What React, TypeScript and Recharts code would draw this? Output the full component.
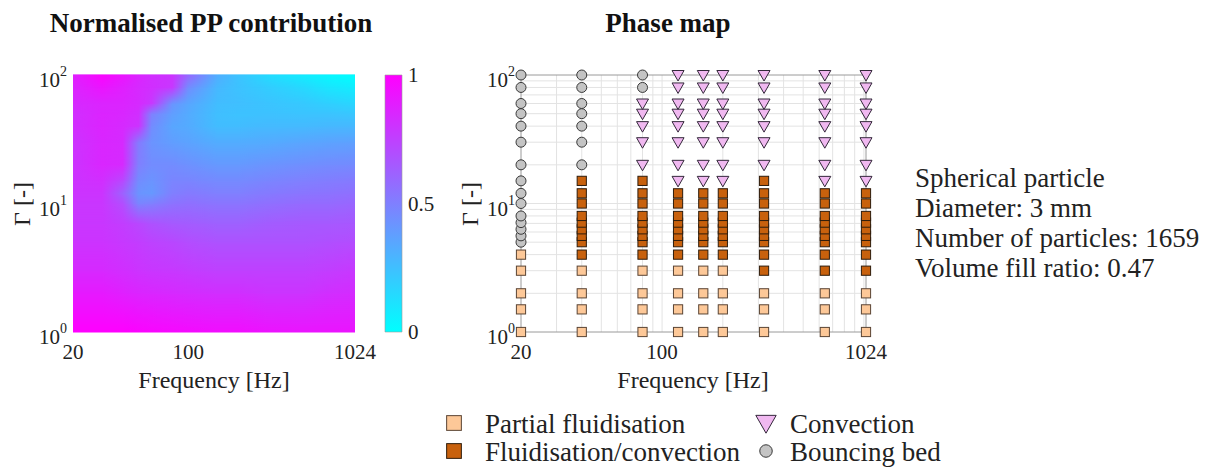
import React from "react"
import { Bar, BarChart, ReferenceArea, ReferenceLine, Scatter, ScatterChart, XAxis, YAxis } from "recharts"

const FONT = '"Liberation Serif", "Times New Roman", Times, serif'
const INK = "#222"

// Normalised PP contribution (rows follow heatGammas, columns heatFreqs)
const heatFreqs = [20, 30, 40, 50, 60, 80, 100, 150, 200, 300, 500, 700, 1024]
const heatGammas = [1, 2, 3, 5, 7, 10, 12, 15, 20, 30, 40, 50, 60, 80, 100]
const heatValues = [
  [1.0, 1.0, 1.0, 0.99, 0.98, 0.97, 0.96, 0.95, 0.95, 0.93, 0.92, 0.92, 0.92],
  [0.9, 0.9, 0.88, 0.86, 0.85, 0.84, 0.83, 0.82, 0.82, 0.8, 0.8, 0.82, 0.83],
  [0.84, 0.84, 0.82, 0.8, 0.79, 0.78, 0.77, 0.75, 0.75, 0.75, 0.75, 0.76, 0.78],
  [0.8, 0.8, 0.78, 0.76, 0.74, 0.72, 0.7, 0.68, 0.68, 0.68, 0.68, 0.69, 0.7],
  [0.79, 0.79, 0.76, 0.72, 0.68, 0.65, 0.64, 0.62, 0.62, 0.64, 0.65, 0.65, 0.66],
  [0.79, 0.79, 0.7, 0.48, 0.5, 0.55, 0.56, 0.54, 0.54, 0.56, 0.58, 0.58, 0.6],
  [0.8, 0.8, 0.62, 0.42, 0.4, 0.5, 0.52, 0.5, 0.5, 0.52, 0.54, 0.55, 0.56],
  [0.8, 0.82, 0.72, 0.45, 0.42, 0.48, 0.48, 0.46, 0.46, 0.48, 0.5, 0.51, 0.52],
  [0.8, 0.85, 0.84, 0.5, 0.45, 0.45, 0.43, 0.4, 0.4, 0.42, 0.44, 0.45, 0.46],
  [0.8, 0.85, 0.84, 0.52, 0.42, 0.38, 0.36, 0.32, 0.32, 0.33, 0.35, 0.36, 0.37],
  [0.82, 0.86, 0.84, 0.8, 0.45, 0.35, 0.33, 0.26, 0.26, 0.27, 0.27, 0.28, 0.28],
  [0.82, 0.86, 0.85, 0.82, 0.5, 0.38, 0.33, 0.25, 0.24, 0.24, 0.23, 0.23, 0.22],
  [0.84, 0.86, 0.86, 0.84, 0.78, 0.42, 0.35, 0.26, 0.25, 0.23, 0.21, 0.19, 0.16],
  [0.86, 0.92, 0.88, 0.84, 0.82, 0.78, 0.45, 0.28, 0.24, 0.2, 0.15, 0.1, 0.07],
  [0.88, 0.98, 0.92, 0.86, 0.82, 0.8, 0.6, 0.32, 0.24, 0.14, 0.07, 0.03, 0.0],
]

// Phase map: one regime letter per gamma value, one string per frequency
// P = partial fluidisation, F = fluidisation/convection, C = convection, B = bouncing bed
const phaseFreqs = [20, 40, 80, 120, 160, 200, 320, 640, 1024]
const phaseGammas = [1, 1.5, 2, 3, 4, 5, 5.6, 6.3, 7.1, 8, 10, 12, 15, 20, 30, 40, 50, 60, 80, 100]
const phaseRegimes = [
  "PPPPPBBBBBBBBBBBBBBB",
  "PPPPFFFFFFFFFBBBBBBB",
  "PPPPFFFFFFFFFCCCCCBB",
  "PPPPFFFFFFFFCCCCCCCC",
  "PPPPFFFFFFFFCCCCCCCC",
  "PPPPFFFFFFFFCCCCCCCC",
  "PPPFFFFFFFFFFCCCCCCC",
  "PPPFFFFFFFFFCCCCCCCC",
  "PPPFFFFFFFFFCCCCCCCC",
]

const freqTicks = [20, 100, 1024]
const gammaTicks = [1, 10, 100]
const cbarTicks = [0, 0.5, 1]
const gridFreqs = [30, 40, 50, 60, 70, 80, 90, 100, 200, 300, 400, 500, 600, 700, 800, 900, 1000]
const gridGammas = [2, 3, 4, 5, 6, 7, 8, 9, 10, 20, 30, 40, 50, 60, 70, 80, 90]

const infoLines = ["Spherical particle", "Diameter: 3 mm", "Number of particles: 1659", "Volume fill ratio: 0.47"]

const regimes = [
  { code: "P", name: "Partial fluidisation", kind: "square", fill: "#fdc898", stroke: "#5a4434" },
  { code: "F", name: "Fluidisation/convection", kind: "square", fill: "#c8610d", stroke: "#2e1c0c" },
  { code: "C", name: "Convection", kind: "triangle", fill: "#f0b8f0", stroke: "#33283a" },
  { code: "B", name: "Bouncing bed", kind: "circle", fill: "#c4c4c4", stroke: "#383838" },
]

// legend icon scale per marker kind
const legendScale: Record<string, number> = { square: 1.6, triangle: 1.7, circle: 1.25 }

// cool colormap: 0 -> cyan, 1 -> magenta
const cool = (v: number) => `rgb(${Math.round(255 * v)},${Math.round(255 * (1 - v))},255)`

const logF0 = Math.log10(heatFreqs[0])
const logFSpan = Math.log10(heatFreqs[heatFreqs.length - 1]) - logF0

const heatNodes = heatGammas.flatMap((g) => heatFreqs.map((f) => ({ f, g })))

const phaseData = regimes.map((r) => ({
  ...r,
  points: phaseFreqs.flatMap((f, i) =>
    phaseGammas.filter((_, j) => phaseRegimes[i][j] === r.code).map((g) => ({ f, g }))
  ),
}))

function Marker({ kind, cx, cy, fill, stroke, s = 1 }: any) {
  if (kind === "square") {
    const h = 4.6 * s
    return <rect x={cx - h} y={cy - h} width={2 * h} height={2 * h} fill={fill} stroke={stroke} strokeWidth={1} />
  }
  if (kind === "triangle") {
    const w = 6 * s
    const pts = `${cx - w},${cy - 4.5 * s} ${cx + w},${cy - 4.5 * s} ${cx},${cy + 6 * s}`
    return <polygon points={pts} fill={fill} stroke={stroke} strokeWidth={1} strokeLinejoin="round" />
  }
  return <circle cx={cx} cy={cy} r={5 * s} fill={fill} stroke={stroke} strokeWidth={1} />
}

function PowTick({ x, y, payload }: any) {
  const e = Math.round(Math.log10(payload.value))
  return (
    <text x={x} y={y + 12} textAnchor="end" fontFamily={FONT} fontSize={21} fill={INK}>
      10
      <tspan dy={-11} fontSize={14}>
        {e}
      </tspan>
    </text>
  )
}

// one band between two gamma rows: lower row gradient, upper row faded in from the top
const stripShape = (i: number) => (p: any) => (
  <g>
    <rect x={p.x} y={p.y - 0.5} width={p.width} height={p.height + 1} fill={`url(#hrow${i})`} />
    <rect x={p.x} y={p.y - 0.5} width={p.width} height={p.height + 1} fill={`url(#hrow${i + 1})`} mask="url(#vfade)" />
  </g>
)

const tickStyle = { fontSize: 21, fill: INK, fontFamily: FONT }
const abs = (left: number, top: number, extra: any = {}) => ({ position: "absolute" as const, left, top, ...extra })
const textFont = (size: number, weight = "normal") => `${weight} ${size}px/30px ${FONT}`

function FreqLabel({ cx }: { cx: number }) {
  return (
    <div style={abs(cx - 100, 365, { width: 200, textAlign: "center", font: textFont(24), color: INK })}>
      Frequency [Hz]
    </div>
  )
}

function GammaLabel({ cx }: { cx: number }) {
  return (
    <div
      style={abs(cx, 204, {
        transform: "translate(-50%, -50%) rotate(-90deg)",
        whiteSpace: "nowrap",
        font: textFont(24),
        color: INK,
      })}
    >
      Γ [-]
    </div>
  )
}

export default function App() {
  return (
    <div style={abs(0, 0, { width: 1216, height: 468, background: "#fff", overflow: "hidden" })}>
      <svg width={0} height={0} style={{ position: "absolute" }}>
        <defs>
          {heatValues.map((row, i) => (
            <linearGradient key={i} id={`hrow${i}`} x1="0" y1="0" x2="1" y2="0">
              {row.map((v, j) => (
                <stop key={j} offset={(Math.log10(heatFreqs[j]) - logF0) / logFSpan} stopColor={cool(v)} />
              ))}
            </linearGradient>
          ))}
          <linearGradient id="vfadeGrad" x1="0" y1="0" x2="0" y2="1">
            <stop offset="0" stopColor="#fff" stopOpacity={1} />
            <stop offset="1" stopColor="#fff" stopOpacity={0} />
          </linearGradient>
          <mask id="vfade" maskContentUnits="objectBoundingBox" style={{ maskType: "alpha" } as any}>
            <rect x="0" y="0" width="1" height="1" fill="url(#vfadeGrad)" />
          </mask>
          <linearGradient id="cbarGrad" x1="0" y1="1" x2="0" y2="0">
            <stop offset="0" stopColor={cool(0)} />
            <stop offset="1" stopColor={cool(1)} />
          </linearGradient>
        </defs>
      </svg>

      <div style={abs(11, 8, { width: 400, textAlign: "center", font: textFont(27, "bold"), color: "#111" })}>
        Normalised PP contribution
      </div>
      <div style={abs(468, 8, { width: 400, textAlign: "center", font: textFont(27, "bold"), color: "#111" })}>
        Phase map
      </div>

      {/* heat map */}
      <div style={abs(0, 0)}>
        <ScatterChart width={380} height={400} margin={{ top: 75, right: 25, bottom: 8, left: 33 }}>
          <XAxis
            dataKey="f"
            type="number"
            scale="log"
            domain={[20, 1024]}
            ticks={freqTicks}
            allowDataOverflow
            height={60}
            axisLine={false}
            tickLine={false}
            tickMargin={6}
            tick={tickStyle}
          />
          <YAxis
            dataKey="g"
            type="number"
            scale="log"
            domain={[1, 100]}
            ticks={gammaTicks}
            allowDataOverflow
            width={40}
            axisLine={false}
            tickLine={false}
            tickSize={0}
            tickMargin={6}
            tick={<PowTick />}
          />
          {heatGammas.slice(0, -1).map((g, i) => (
            <ReferenceArea
              key={g}
              x1={heatFreqs[0]}
              x2={heatFreqs[heatFreqs.length - 1]}
              y1={g}
              y2={heatGammas[i + 1]}
              shape={stripShape(i)}
            />
          ))}
          <Scatter data={heatNodes} shape={() => <g />} isAnimationActive={false} />
        </ScatterChart>
      </div>

      {/* colour bar */}
      <div style={abs(380, 0)}>
        <BarChart
          width={60}
          height={400}
          data={[{ k: "cbar", v: 1 }]}
          margin={{ top: 75, right: 3, bottom: 68, left: 5 }}
          barCategoryGap={0}
        >
          <XAxis dataKey="k" hide />
          <YAxis
            orientation="right"
            domain={[0, 1]}
            ticks={cbarTicks}
            width={35}
            axisLine={false}
            tickLine={false}
            tickSize={0}
            tickMargin={6}
            tick={tickStyle}
          />
          <Bar dataKey="v" fill="url(#cbarGrad)" stroke="#9a9a9a" strokeWidth={0.6} isAnimationActive={false} />
        </BarChart>
      </div>

      {/* phase map */}
      <div style={abs(440, 0)}>
        <ScatterChart width={450} height={400} margin={{ top: 75, right: 24, bottom: 8, left: 41 }}>
          <XAxis
            dataKey="f"
            type="number"
            scale="log"
            domain={[20, 1024]}
            ticks={freqTicks}
            height={60}
            axisLine={{ stroke: "#9a9a9a" }}
            tickLine={false}
            tickMargin={6}
            tick={tickStyle}
          />
          <YAxis
            dataKey="g"
            type="number"
            scale="log"
            domain={[1, 100]}
            ticks={gammaTicks}
            width={40}
            axisLine={{ stroke: "#9a9a9a" }}
            tickLine={false}
            tickSize={0}
            tickMargin={6}
            tick={<PowTick />}
          />
          {gridFreqs.map((f) => (
            <ReferenceLine key={`gx${f}`} x={f} stroke="#e3e3e3" strokeWidth={1} />
          ))}
          {gridGammas.map((g) => (
            <ReferenceLine key={`gy${g}`} y={g} stroke="#e3e3e3" strokeWidth={1} />
          ))}
          <ReferenceLine y={100} stroke="#9a9a9a" />
          <ReferenceLine x={1024} stroke="#9a9a9a" />
          {phaseData.map((r) => (
            <Scatter
              key={r.code}
              name={r.name}
              data={r.points}
              isAnimationActive={false}
              shape={(p: any) => <Marker kind={r.kind} cx={p.cx} cy={p.cy} fill={r.fill} stroke={r.stroke} />}
            />
          ))}
        </ScatterChart>
      </div>

      <FreqLabel cx={214} />
      <FreqLabel cx={693} />
      <GammaLabel cx={22} />
      <GammaLabel cx={470} />

      {/* legend */}
      {phaseData.map((r, i) => {
        const col = i < 2 ? 0 : 1
        const row = i % 2
        const iconX = col === 0 ? 454 : 766
        const textX = col === 0 ? 485 : 790
        const cy = row === 0 ? 423 : 451
        return (
          <React.Fragment key={r.code}>
            <svg width={30} height={30} style={abs(iconX - 15, cy - 15)}>
              <Marker kind={r.kind} cx={15} cy={15} fill={r.fill} stroke={r.stroke} s={legendScale[r.kind]} />
            </svg>
            <div style={abs(textX, cy - 14, { font: textFont(27), color: INK, whiteSpace: "nowrap" })}>{r.name}</div>
          </React.Fragment>
        )
      })}

      <div style={abs(915, 163, { font: textFont(27), color: INK, whiteSpace: "nowrap" })}>
        {infoLines.map((t) => (
          <div key={t}>{t}</div>
        ))}
      </div>
    </div>
  )
}
